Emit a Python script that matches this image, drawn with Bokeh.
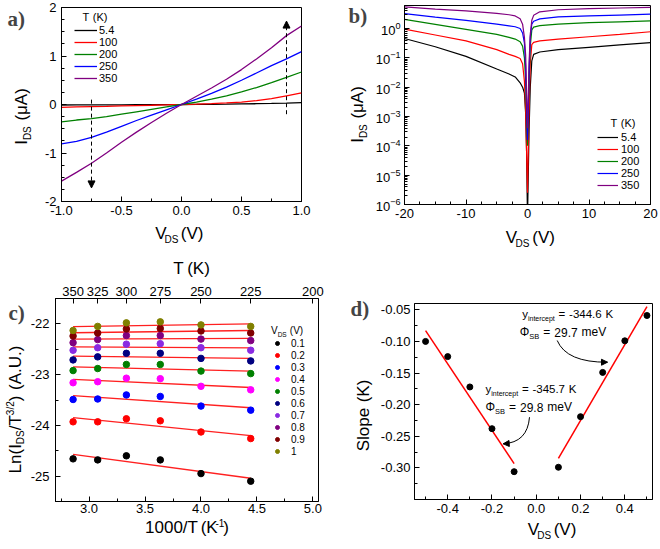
import numpy as np
from bokeh.plotting import figure
from bokeh.layouts import column, row
from bokeh.models import (Label, Legend, LegendItem, Range1d, LinearAxis, FixedTicker,
                          SingleIntervalTicker, PrintfTickFormatter, CustomJSTickFormatter,
                          Arrow, NormalHead)
from bokeh.embed import file_html
from bokeh.resources import INLINE

# ---------------- data ----------------
# panel a: I_DS (uA) vs V_DS (V)
a_V = [-1.0, -0.875, -0.75, -0.625, -0.5, -0.375, -0.25, -0.125, 0.0,
       0.125, 0.25, 0.375, 0.5, 0.625, 0.75, 0.875, 1.0]
a_T = ["5.4", "100", "200", "250", "350"]
a_I_5 = [-0.010, -0.009, -0.008, -0.007, -0.006, -0.004, -0.003, -0.001, 0.0,
         0.002, 0.004, 0.007, 0.011, 0.016, 0.022, 0.030, 0.040]
a_I_100 = [-0.060, -0.050, -0.045, -0.040, -0.030, -0.022, -0.015, -0.007, 0.0,
           0.008, 0.018, 0.032, 0.050, 0.080, 0.120, 0.180, 0.240]
a_I_200 = [-0.36, -0.32, -0.29, -0.25, -0.20, -0.15, -0.10, -0.05, 0.0,
           0.05, 0.11, 0.18, 0.26, 0.35, 0.45, 0.56, 0.67]
a_I_250 = [-0.81, -0.76, -0.68, -0.57, -0.45, -0.33, -0.22, -0.11, 0.0,
           0.11, 0.23, 0.36, 0.50, 0.65, 0.80, 0.94, 1.09]
a_I_350 = [-1.58, -1.40, -1.21, -1.00, -0.78, -0.57, -0.37, -0.18, 0.0,
           0.17, 0.34, 0.52, 0.72, 0.94, 1.17, 1.42, 1.62]

# panel b: log10(I_DS / uA) vs V_DS (V)
b_V = [-20, -15, -10, -5, -3, -2, -1.2, -0.8, -0.5, -0.3, -0.15, 0.0,
       0.1, 0.25, 0.45, 0.7, 1, 2, 5, 10, 15, 20]
b_T = ["5.4", "100", "200", "250", "350"]
b_log_5 = [-0.34, -0.62, -0.95, -1.38, -1.55, -1.65, -1.85, -2.0, -2.2, -2.9, -4.2, -6.5,
           -5.3, -3.5, -2.0, -1.1, -0.88, -0.80, -0.72, -0.64, -0.56, -0.48]
b_log_100 = [-0.02, -0.22, -0.42, -0.72, -0.88, -0.95, -1.02, -1.2, -1.8, -2.8, -4.2, -5.6,
             -4.5, -2.8, -1.2, -0.55, -0.47, -0.42, -0.36, -0.28, -0.20, -0.11]
b_log_200 = [0.31, 0.14, -0.03, -0.20, -0.30, -0.36, -0.45, -0.6, -1.0, -1.8, -3.0, -4.0,
             -3.2, -1.8, -0.6, -0.05, 0.05, 0.10, 0.15, 0.20, 0.23, 0.26]
b_log_250 = [0.51, 0.39, 0.28, 0.15, 0.09, 0.06, 0.0, -0.15, -0.5, -1.3, -2.6, -3.8,
             -3.0, -1.5, -0.3, 0.15, 0.25, 0.33, 0.40, 0.43, 0.46, 0.49]
b_log_350 = [0.74, 0.66, 0.60, 0.52, 0.47, 0.43, 0.33, 0.15, -0.3, -0.9, -2.2, -3.4,
             -2.6, -1.2, -0.2, 0.28, 0.45, 0.57, 0.64, 0.68, 0.70, 0.72]

# panel c: Ln(I/T^1.5) vs 1000/T
c_T = [350, 325, 300, 275, 250, 225]
c_top_T = [350, 325, 300, 275, 250, 225, 200]
c_vds = ["0.1", "0.2", "0.3", "0.4", "0.5", "0.6", "0.7", "0.8", "0.9", "1"]
c_ln = [
    [-24.66, -24.68, -24.60, -24.68, -24.95, -25.10],
    [-23.93, -23.93, -23.87, -23.91, -24.13, -24.26],
    [-23.49, -23.48, -23.40, -23.43, -23.62, -23.70],
    [-23.16, -23.14, -23.07, -23.08, -23.23, -23.30],
    [-22.92, -22.88, -22.80, -22.80, -22.93, -22.98],
    [-22.71, -22.65, -22.58, -22.58, -22.68, -22.73],
    [-22.52, -22.47, -22.40, -22.39, -22.47, -22.52],
    [-22.37, -22.31, -22.23, -22.23, -22.30, -22.33],
    [-22.24, -22.18, -22.10, -22.09, -22.14, -22.18],
    [-22.13, -22.05, -21.98, -21.96, -22.02, -22.05],
]
c_colors = ["#000000", "#ff0000", "#0000ff", "#ff00ff", "#008000",
            "#000080", "#8a2be2", "#800080", "#800000", "#808000"]

# panel d: slope vs V_DS
d_V = [-0.5, -0.4, -0.3, -0.2, -0.1, 0.1, 0.2, 0.3, 0.4, 0.5]
d_slope = [-0.100, -0.124, -0.172, -0.238, -0.306, -0.299, -0.219, -0.149, -0.099, -0.059]

line_colors = ["#000000", "#ff0000", "#008000", "#0000ff", "#800080"]

FONT = "Liberation Sans"
SERIF = "Liberation Serif"

CW = {' ': 0.33, '(': 0.333, ')': 0.333, '-': 0.333, '.': 0.278, '/': 0.278, '=': 0.584,
      'A': 0.667, 'B': 0.667, 'D': 0.722, 'I': 0.278, 'K': 0.667, 'L': 0.556, 'S': 0.667,
      'T': 0.611, 'U': 0.722, 'V': 0.667, 'a': 0.556, 'c': 0.5, 'e': 0.556, 'i': 0.222,
      'l': 0.222, 'm': 0.833, 'n': 0.556, 'o': 0.556, 'p': 0.556, 'r': 0.333, 't': 0.278,
      'v': 0.5, 'y': 0.5, 'μ': 0.576, 'Φ': 0.796}


def tw(s, size):
    return sum(CW.get(ch, 0.556) for ch in s) * size


class Frame:
    """Maps page pixels to data coordinates of a plot frame."""
    def __init__(self, fx, fy, w, h, x0, x1, y0, y1, xr, yr, logy=False):
        self.fx, self.fy, self.w, self.h = fx, fy, w, h
        self.x0, self.x1, self.y0, self.y1 = x0, x1, y0, y1
        self.xr, self.yr, self.logy = xr, yr, logy

    def data(self, X, Y):
        x = self.xr[0] + (X - self.x0) / (self.x1 - self.x0) * (self.xr[1] - self.xr[0])
        f = (self.y1 - Y) / (self.y1 - self.y0)
        if self.logy:
            l0, l1 = np.log10(self.yr[0]), np.log10(self.yr[1])
            y = 10 ** (l0 + f * (l1 - l0))
        else:
            y = self.yr[0] + f * (self.yr[1] - self.yr[0])
        return float(x), float(y)


class TextBox:
    """A figure used only to hold text; its data coords are local pixels."""
    def __init__(self, fx, fy, w, h):
        self.fx, self.fy, self.w, self.h = fx, fy, w, h
        p = figure(width=w, height=h, x_range=Range1d(0, w), y_range=Range1d(h, 0),
                   x_axis_location=None, y_axis_location=None,
                   output_backend="svg", toolbar_location=None)
        p.min_border_left = p.min_border_right = p.min_border_top = p.min_border_bottom = 0
        p.outline_line_color = None
        p.grid.visible = False
        p.background_fill_color = "white"
        p.border_fill_color = "white"
        self.p = p

    def data(self, X, Y):
        return float(X - self.fx), float(Y - self.fy)


def style_axis(ax, size="13px", standoff=4):
    ax.axis_line_color = "black"
    ax.major_tick_in = 5
    ax.major_tick_out = 0
    ax.minor_tick_in = 3
    ax.minor_tick_out = 0
    ax.major_tick_line_color = "black"
    ax.minor_tick_line_color = "black"
    ax.major_label_text_font = FONT
    ax.major_label_text_font_size = size
    ax.major_label_text_color = "black"
    ax.major_label_standoff = standoff


def make_fig(F, y_axis_type="linear"):
    p = figure(width=F.w, height=F.h, x_range=Range1d(*F.xr), y_range=Range1d(*F.yr),
               y_axis_type=y_axis_type, output_backend="svg", toolbar_location=None)
    p.min_border_left = F.x0 - F.fx
    p.min_border_right = F.fx + F.w - F.x1
    p.min_border_top = F.y0 - F.fy
    p.min_border_bottom = F.fy + F.h - F.y1
    p.outline_line_color = "black"
    p.outline_line_alpha = 1
    p.outline_line_width = 1
    p.xgrid.visible = False
    p.ygrid.visible = False
    p.background_fill_color = "white"
    p.border_fill_color = "white"
    return p


def rich(p, F, cx, cy, pieces, vertical=False, anchor="center", color="black"):
    """pieces: (text, size, baseline shift down). cx/cy: start or centre, main-text middle.
    Every word is placed on its own so that small width errors do not accumulate."""
    main = pieces[0][1]
    base = 0.35 * main
    total = sum(tw(t, s) for t, s, d in pieces)
    pos = -total / 2 if anchor == "center" else 0
    for t, s, d in pieces:
        off = base + d - 0.35 * s
        words = t.split(" ")
        for i, wd in enumerate(words):
            if i > 0:
                pos += tw(" ", s)
            if wd == "":
                continue
            if vertical:
                X, Y = cx + off, cy - pos
            else:
                X, Y = cx + pos, cy + off
            x, y = F.data(X, Y)
            p.add_layout(Label(x=x, y=y, text=wd, text_font=FONT, text_font_size=f"{s}px",
                               text_baseline="middle", text_align="left",
                               angle=(np.pi / 2 if vertical else 0.0), text_color=color))
            pos += tw(wd, s)


def panel_letter(T, X, Y, txt):
    x, y = T.data(X, Y)
    T.p.add_layout(Label(x=x, y=y, text=txt, text_font=SERIF, text_font_size="21px",
                         text_font_style="bold", text_baseline="middle", text_align="left"))


def make_legend(items, vx, vy, glyph_w, standoff, size="11px"):
    return Legend(items=items, location=(vx, vy), orientation="vertical",
                  glyph_width=glyph_w, glyph_height=12, label_height=12, spacing=0,
                  padding=0, margin=0, label_standoff=standoff,
                  label_text_font=FONT, label_text_font_size=size,
                  label_text_line_height=1.0, label_text_color="black",
                  border_line_alpha=0, background_fill_alpha=0)


# ---------------- panel a ----------------
A_yl = TextBox(0, 0, 40, 250)
Fa = Frame(40, 0, 290, 222, 61, 301, 7, 201, (-1.0, 1.0), (-2.0, 2.0))
pa = make_fig(Fa)
A_xl = TextBox(40, 222, 290, 28)
pa.xaxis.ticker = SingleIntervalTicker(interval=0.5, num_minor_ticks=2)
pa.xaxis.formatter = PrintfTickFormatter(format="%.1f")
pa.yaxis.ticker = SingleIntervalTicker(interval=1, num_minor_ticks=4)
pa.yaxis.formatter = PrintfTickFormatter(format="%d")
style_axis(pa.xaxis[0], standoff=4)
style_axis(pa.yaxis[0], standoff=5)
a_series = [a_I_5, a_I_100, a_I_200, a_I_250, a_I_350]
a_items = []
for lab, ys, col in zip(a_T, a_series, line_colors):
    r = pa.line(a_V, ys, line_color=col, line_width=1.3)
    a_items.append(LegendItem(label=lab, renderers=[r]))
pa.add_layout(make_legend(a_items, 13, 117, 23, 2))
rich(pa, Fa, 82, 16.7, [("T (K)", 11, 0)], anchor="left")
pa.add_layout(Arrow(end=NormalHead(size=7, fill_color="black", line_color="black"),
                    x_start=-0.75, y_start=0.1, x_end=-0.75, y_end=-1.72,
                    line_dash="4 3", line_width=1, line_color="black"))
pa.add_layout(Arrow(end=NormalHead(size=7, fill_color="black", line_color="black"),
                    x_start=0.875, y_start=-0.2, x_end=0.875, y_end=1.72,
                    line_dash="4 3", line_width=1, line_color="black"))
rich(A_xl.p, A_xl, 180, 233, [("V", 17, 0), ("DS", 10, 4), (" (V)", 17, 0)])
rich(A_yl.p, A_yl, 21, 116, [("I", 17, 0), ("DS", 10, 4), (" (μA)", 17, 0)], vertical=True)
panel_letter(A_yl, 7, 18, "a)")

# ---------------- panel b ----------------
B_yl = TextBox(330, 0, 42, 250)
Fb = Frame(372, 0, 287, 224, 404, 650, 5, 204, (-20, 20), (1e-6, 6.1), logy=True)
pb = make_fig(Fb, y_axis_type="log")
B_xl = TextBox(372, 224, 287, 26)
pb.xaxis.ticker = SingleIntervalTicker(interval=10, num_minor_ticks=4)
pb.xaxis.formatter = PrintfTickFormatter(format="%d")
style_axis(pb.xaxis[0], standoff=4)
style_axis(pb.yaxis[0], standoff=4)
b_series = [b_log_5, b_log_100, b_log_200, b_log_250, b_log_350]
b_items = []
for lab, ls, col in zip(b_T, b_series, line_colors):
    r = pb.line(b_V, [10 ** v for v in ls], line_color=col, line_width=1.2)
    b_items.append(LegendItem(label=lab, renderers=[r]))
pb.add_layout(make_legend(b_items, 193, 13, 21, 3))
rich(pb, Fb, 610, 122.7, [("T (K)", 11, 0)], anchor="left")
rich(B_xl.p, B_xl, 517, 237, [("V", 17, 0), ("DS", 10, 4), (" (V)", 17, 0)])
rich(B_yl.p, B_yl, 357, 114, [("I", 17, 0), ("DS", 10, 4), (" (μA)", 17, 0)], vertical=True)
panel_letter(B_yl, 348, 15, "b)")

# ---------------- panel c ----------------
C_yl = TextBox(0, 250, 27, 298)
C_title = TextBox(27, 250, 303, 28)
Fc = Frame(27, 278, 303, 240, 52, 318, 298, 501, (2.7, 5.05), (-25.5, -21.5))
pc = make_fig(Fc)
C_xl = TextBox(27, 518, 303, 30)
pc.xaxis.ticker = SingleIntervalTicker(interval=0.5, num_minor_ticks=2)
pc.xaxis.formatter = PrintfTickFormatter(format="%.1f")
pc.yaxis.ticker = SingleIntervalTicker(interval=1, num_minor_ticks=2)
pc.yaxis.formatter = PrintfTickFormatter(format="%d")
style_axis(pc.xaxis[0], standoff=2)
style_axis(pc.yaxis[0], standoff=6)
pc.extra_x_ranges = {"T": Range1d(*Fc.xr)}
top = LinearAxis(x_range_name="T",
                 ticker=FixedTicker(ticks=[1000.0 / t for t in c_top_T], minor_ticks=[]),
                 formatter=CustomJSTickFormatter(code="return (1000/tick).toFixed(0)"))
style_axis(top, standoff=3)
pc.add_layout(top, "above")
c_x = [1000.0 / t for t in c_T]
c_items = []
for lab, ys, col in zip(c_vds, c_ln, c_colors):
    k, b0 = np.polyfit(c_x, ys, 1)
    pc.line([c_x[0], c_x[-1]], [k * c_x[0] + b0, k * c_x[-1] + b0],
            line_color="#ff2020", line_width=1.3)
for lab, ys, col in zip(c_vds, c_ln, c_colors):
    r = pc.scatter(c_x, ys, marker="circle", size=6.5, fill_color=col, line_color=col)
    c_items.append(LegendItem(label=lab, renderers=[r]))
pc.add_layout(make_legend(c_items, 217, 44, 10, 9, size="10px"))
rich(pc, Fc, 270, 330, [("V", 10, 0), ("DS", 6.5, 2.5), (" (V)", 10, 0)], anchor="left")
rich(C_xl.p, C_xl, 178, 527, [("1000/T  (K", 17, 0), ("-1", 10, -7), (")", 17, 0)])
rich(C_title.p, C_title, 182, 268, [("T (K)", 17, 0)])
rich(C_yl.p, C_yl, 15, 409, [("Ln(I", 17, 0), ("DS", 10, 3), ("/T", 17, 0), ("3/2", 10, -7),
                             (") (A.U.)", 17, 0)], vertical=True)
panel_letter(C_yl, 8, 312, "c)")

# ---------------- panel d ----------------
D_yl = TextBox(330, 250, 45, 298)
Fd = Frame(375, 250, 284, 269, 414, 652, 303, 499, (-0.55, 0.525), (-0.35, -0.04))
pd_ = make_fig(Fd)
D_xl = TextBox(375, 519, 284, 29)
pd_.xaxis.ticker = SingleIntervalTicker(interval=0.2, num_minor_ticks=2)
pd_.xaxis.formatter = PrintfTickFormatter(format="%.1f")
pd_.yaxis.ticker = SingleIntervalTicker(interval=0.05, num_minor_ticks=2)
pd_.yaxis.formatter = PrintfTickFormatter(format="%.2f")
style_axis(pd_.xaxis[0], standoff=4)
style_axis(pd_.yaxis[0], standoff=4)
dV = np.array(d_V)
dS = np.array(d_slope)
for mask in (dV < 0, dV > 0):
    xs, ys = dV[mask], dS[mask]
    k, b0 = np.polyfit(xs, ys, 1)
    pd_.line([xs.min(), xs.max()], [k * xs.min() + b0, k * xs.max() + b0],
             line_color="#ff0000", line_width=1.5)
pd_.scatter(d_V, d_slope, marker="circle", size=6, fill_color="black", line_color="black")

# curved annotation arrows (page px -> data)
for (sx, sy), (qx, qy), (ex, ey) in [((556.7, 340), (566, 362), (607, 361.7)),
                                      ((529, 416.7), (527, 442), (502.7, 443.3))]:
    x0, y0 = Fd.data(sx, sy)
    cx_, cy_ = Fd.data(qx, qy)
    x1, y1 = Fd.data(ex, ey)
    pd_.quadratic(x0=[x0], y0=[y0], x1=[x1], y1=[y1], cx=[cx_], cy=[cy_],
                  line_color="black", line_width=1)
    hx, hy = Fd.data(ex - 0.3 * (ex - qx), ey - 0.3 * (ey - qy))
    pd_.add_layout(Arrow(end=NormalHead(size=6, fill_color="black", line_color="black"),
                         x_start=hx, y_start=hy, x_end=x1, y_end=y1, line_alpha=0))

rich(pd_, Fd, 521.7, 313.3, [("y", 11.5, 0), ("intercept", 7, 3), (" = -344.6 K", 11.5, 0)],
     anchor="left")
rich(pd_, Fd, 519.3, 331.7, [("Φ", 12, 0), ("SB", 7.5, 3), (" = 29.7 meV", 12, 0)],
     anchor="left")
rich(pd_, Fd, 485, 388.3, [("y", 11.5, 0), ("intercept", 7, 3), (" = -345.7 K", 11.5, 0)],
     anchor="left")
rich(pd_, Fd, 485, 406.7, [("Φ", 12, 0), ("SB", 7.5, 3), (" = 29.8 meV", 12, 0)],
     anchor="left")
rich(D_xl.p, D_xl, 537, 529, [("V", 17, 0), ("DS", 10, 4), (" (V)", 17, 0)])
rich(D_yl.p, D_yl, 363, 415, [("Slope (K)", 17, 0)], vertical=True)
panel_letter(D_yl, 350, 308, "d)")

row1 = row(A_yl.p, column(pa, A_xl.p), B_yl.p, column(pb, B_xl.p))
row2 = row(C_yl.p, column(C_title.p, pc, C_xl.p), D_yl.p, column(pd_, D_xl.p))
layout = column(row1, row2)
open("out.html", "w").write(file_html(layout, INLINE))
